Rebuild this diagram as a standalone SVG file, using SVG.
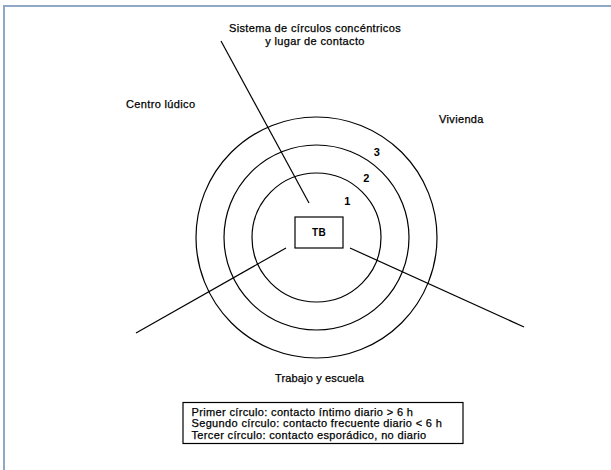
<svg xmlns="http://www.w3.org/2000/svg" width="611" height="470" viewBox="0 0 611 470">
<style>
text{font-family:"Liberation Sans",Arial,sans-serif;font-size:11px;fill:#000;stroke:#000;stroke-width:0.25;letter-spacing:0.35px}
.ring{fill:none;stroke:#000;stroke-width:1.2}
.conn{stroke:#000;stroke-width:1.2;fill:none}
.num{font-weight:bold;font-size:11px;stroke-width:0}
</style>
<rect width="611" height="470" fill="#fff"/>
<g id="frame" fill="none" stroke="#8ea8c5" stroke-width="2">
<path d="M4,470 V6 H611"/>
</g>
<g id="rings">
<circle class="ring" cx="316.5" cy="237.5" r="64.5"/>
<circle class="ring" cx="316.5" cy="237.5" r="92.5"/>
<circle class="ring" cx="316.5" cy="237.5" r="120.5"/>
<text class="num" x="347.5" y="205" text-anchor="middle">1</text>
<text class="num" x="366.5" y="181.5" text-anchor="middle">2</text>
<text class="num" x="377" y="155.5" text-anchor="middle">3</text>
</g>
<g id="connectors">
<line class="conn" x1="221" y1="41" x2="309" y2="203"/>
<line class="conn" x1="136" y1="333" x2="286" y2="248"/>
<line class="conn" x1="350" y1="248" x2="524" y2="327"/>
</g>
<g id="tb">
<rect x="295" y="217" width="48" height="31" fill="#fff" stroke="#000" stroke-width="1.2"/>
<text x="319" y="236" text-anchor="middle" font-weight="bold" style="font-size:10px;stroke-width:0">TB</text>
</g>
<g id="title">
<text x="315" y="32" text-anchor="middle">Sistema de círculos concéntricos</text>
<text x="315" y="44.5" text-anchor="middle">y lugar de contacto</text>
</g>
<g id="centro-ludico">
<text x="126" y="108">Centro lúdico</text>
</g>
<g id="vivienda">
<text x="439" y="123">Vivienda</text>
</g>
<g id="trabajo">
<text x="319.5" y="382" text-anchor="middle" style="letter-spacing:0.15px">Trabajo y escuela</text>
</g>
<g id="legend">
<rect x="183" y="402.5" width="280" height="41" fill="none" stroke="#000" stroke-width="1.2"/>
<text x="191.5" y="415.5">Primer círculo: contacto íntimo diario &gt; 6 h</text>
<text x="191.5" y="427">Segundo círculo: contacto frecuente diario &lt; 6 h</text>
<text x="191.5" y="438.5">Tercer círculo: contacto esporádico, no diario</text>
</g>
</svg>
